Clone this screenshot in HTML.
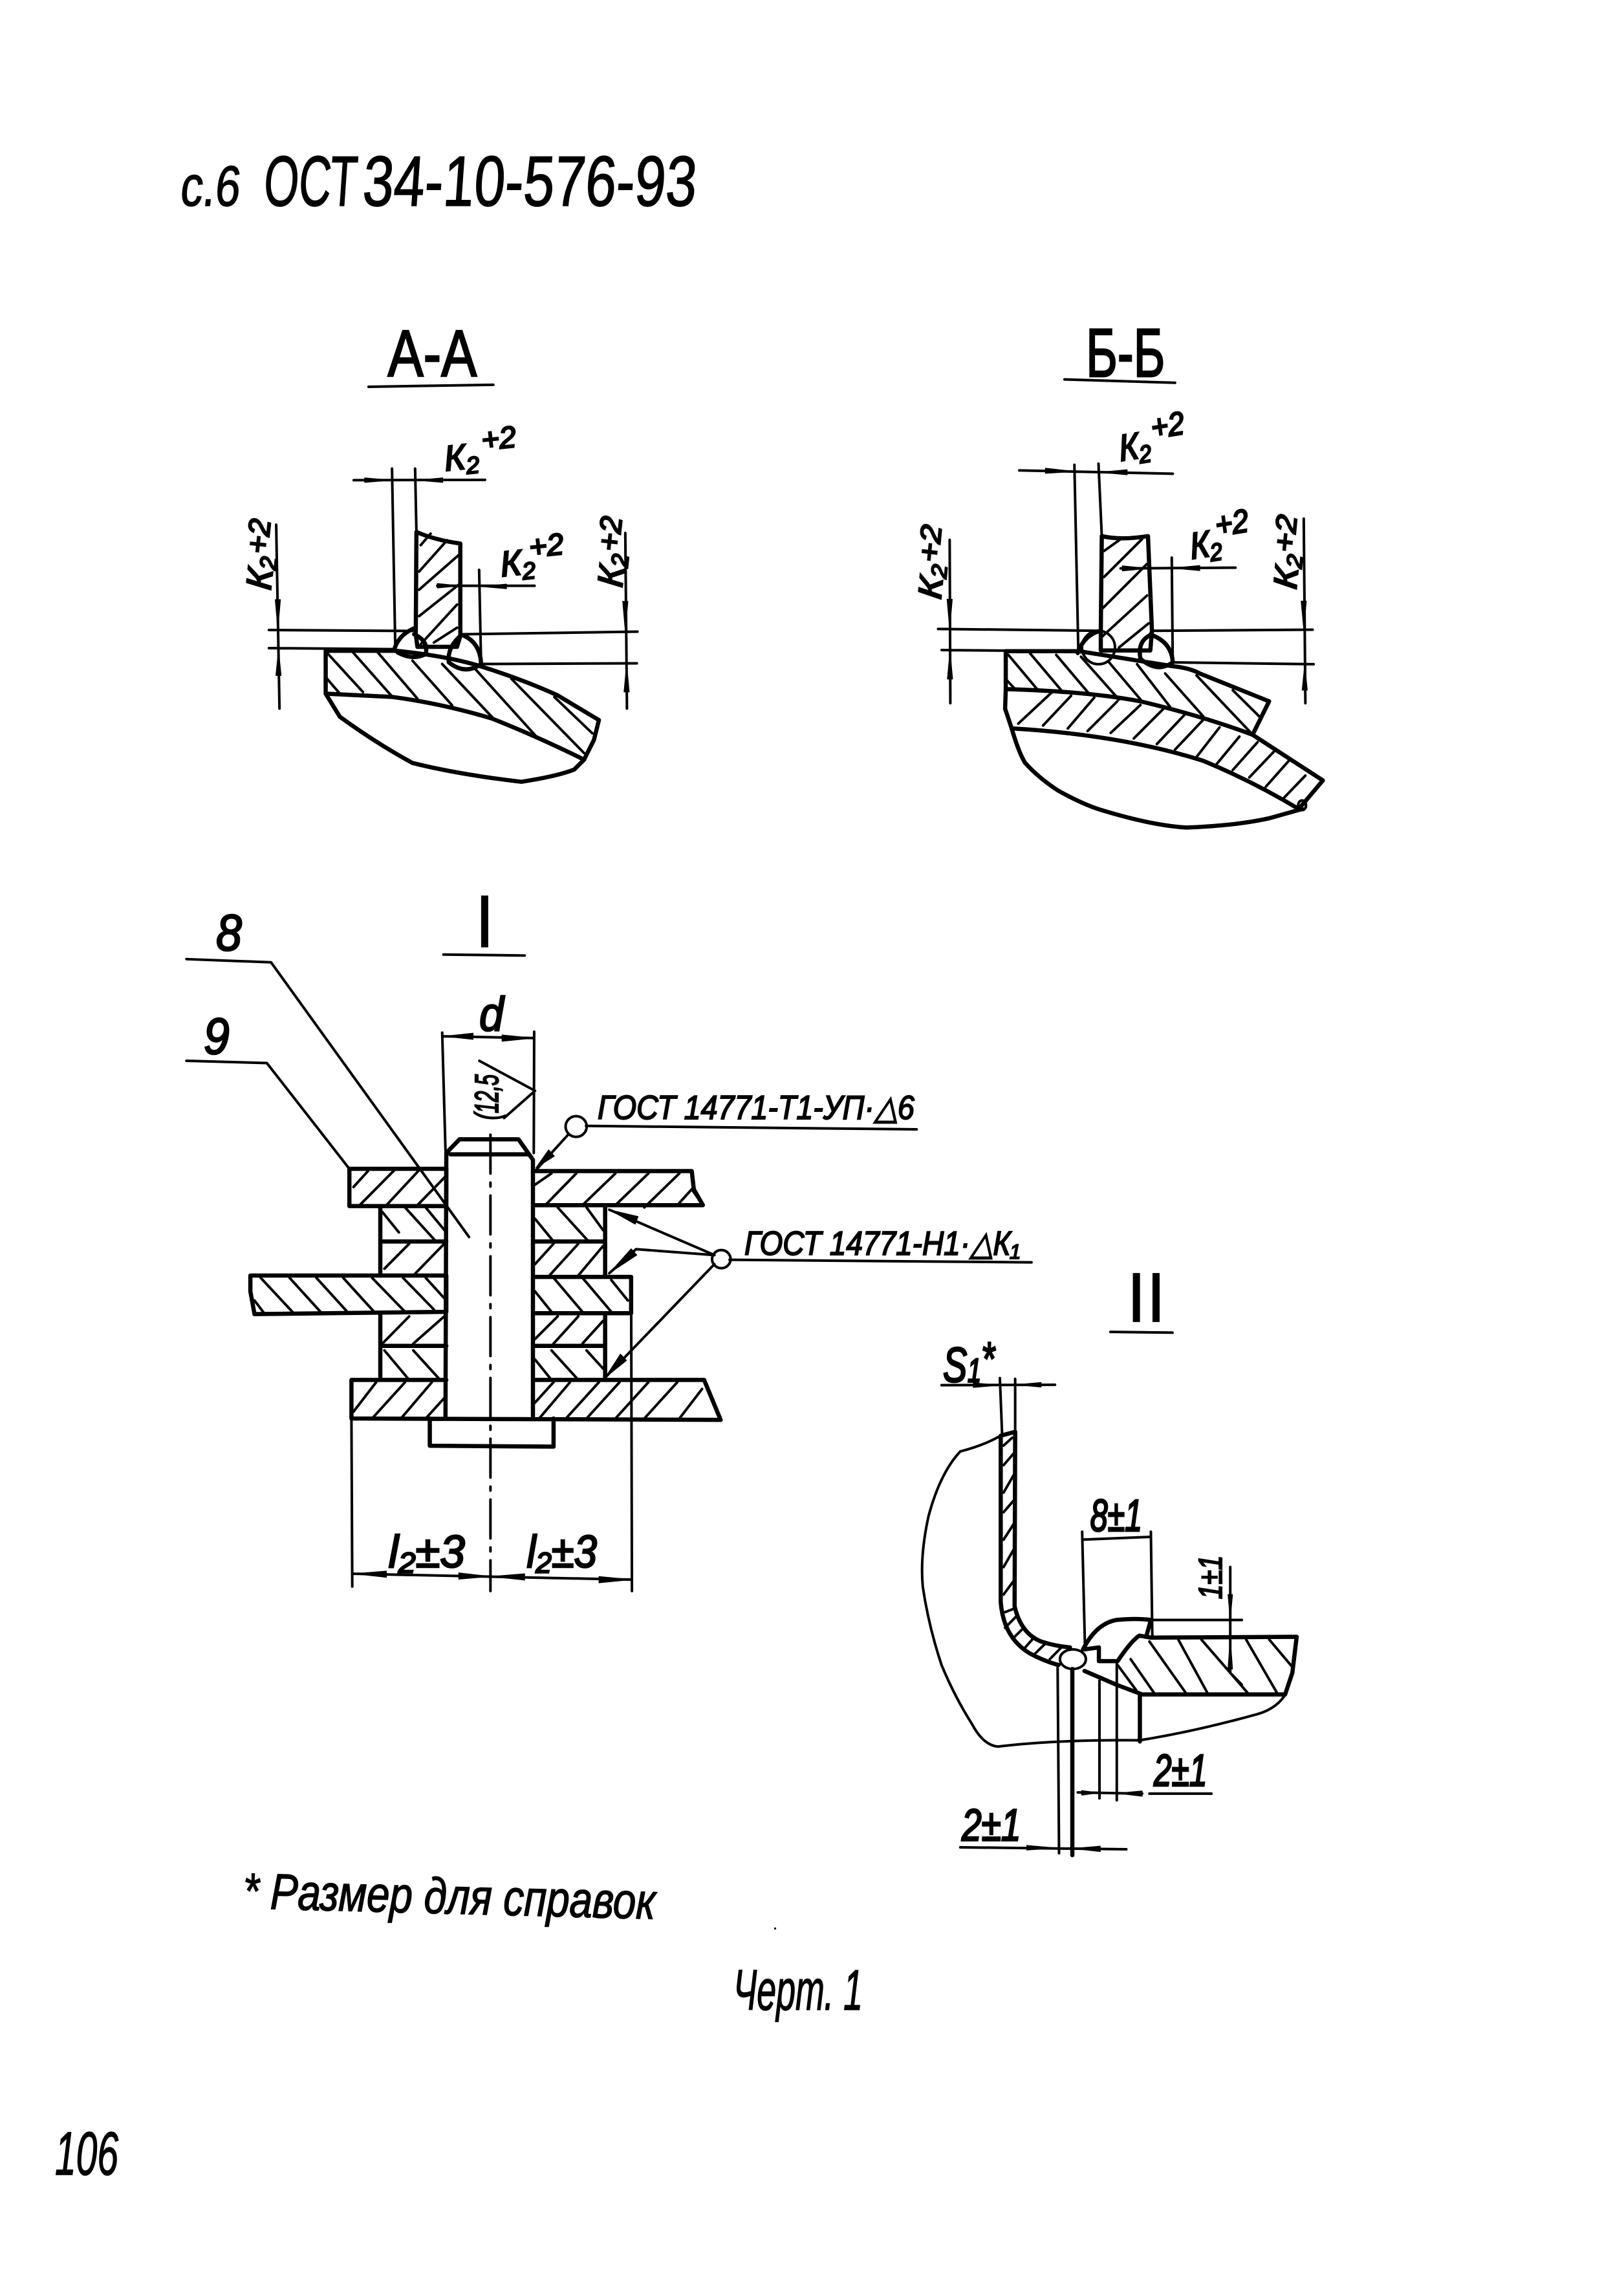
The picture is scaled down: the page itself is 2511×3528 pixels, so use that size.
<!DOCTYPE html>
<html lang="ru"><head><meta charset="utf-8"><title>с.6 ОСТ 34-10-576-93</title>
<style>
html,body{margin:0;padding:0;background:#fff}
svg{display:block}
path,line,ellipse{vector-effect:non-scaling-stroke;fill:none;stroke:#000;stroke-linecap:round;stroke-linejoin:round}
.t{stroke-width:6.5px}.n{stroke-width:4px}.h{stroke-width:4px}.b{stroke-width:11px;stroke-linecap:butt}
path.f{fill:#000;stroke:#000;stroke-width:1px}
text{font-family:"Liberation Sans",sans-serif;fill:#000;stroke:#000;stroke-width:2.5px;vector-effect:non-scaling-stroke}
text.s{stroke-width:1.5px}
.i{font-style:italic}
</style></head><body>
<svg xmlns="http://www.w3.org/2000/svg" width="2511" height="3528" viewBox="0 0 2511 3528">
<rect width="2511" height="3528" fill="#fff"/>

<!-- heading -->
<text class="s" transform="translate(277,318) skewX(-6)" font-size="88" textLength="92" lengthAdjust="spacingAndGlyphs">с.6</text>
<text class="s" transform="translate(406,318) skewX(-4)" font-size="110" textLength="144" lengthAdjust="spacingAndGlyphs">ОСТ</text>
<text class="s" transform="translate(559,318) skewX(-4)" font-size="110" textLength="516" lengthAdjust="spacingAndGlyphs">34-10-576-93</text>

<!-- A-A -->
<g transform="translate(250,450) scale(.5102)">
<text x="685" y="258" font-size="200" textLength="270" lengthAdjust="spacingAndGlyphs">А-А</text>
<path class="n" d="M627 290L1005 284"/>
<path class="n" d="M698 538L708 1085M768 538L772 730M582 573L980 572M835 893L1130 893M962 845L968 1130M325 1027L760 1030M325 1082L705 1085M905 1040L1442 1032M965 1130L1440 1128M347 708L357 1265M1405 733L1410 1265"/>
<path class="f" d="M698 573L615 566V580ZM770 573L852 566V580ZM905 893L835 886V900ZM965 895L1045 888V902ZM352 1027L344 935H360ZM354 1085L346 1165H362ZM1405 1032L1397 940H1413ZM1409 1128L1401 1215H1417Z"/>
<path class="t" d="M772 730Q830 755 905 765L905 1045L895 1078L775 1078L770 1040Z"/>
<path class="h" d="M785 770L815 735M780 850L865 755M780 905L900 800M780 985L900 890M785 1070L895 950M825 1065L895 1020"/>
<path class="t" d="M705 1085Q720 1040 765 1022M765 1040Q810 1060 800 1100Q760 1120 715 1095M905 1040Q965 1060 968 1130Q920 1165 870 1125Q865 1080 905 1045"/>
<path class="t" d="M497 1090L710 1090Q860 1105 960 1135Q1090 1175 1200 1225L1325 1300L1310 1360L1280 1420Q1150 1355 1000 1295Q850 1250 700 1230L497 1220Z"/>
<path class="h" d="M500 1095L610 1215M580 1095L695 1225M655 1095L775 1235M760 1120L880 1255M850 1130L1005 1295M950 1145L1140 1355M1060 1175L1280 1400M1190 1230L1305 1340M497 1170L540 1220"/>
<path class="t" d="M497 1220L540 1290Q650 1370 760 1430Q900 1465 1090 1487Q1200 1470 1250 1450L1280 1420"/>
<g transform="translate(860,545) rotate(-6)"><text class="i" font-size="108">К</text><text class="i" x="64" y="16" font-size="72">2</text><text class="i" x="118" y="-50" font-size="92">+2</text></g>
<g transform="translate(1030,865) rotate(-6)"><text class="i" font-size="108">К</text><text class="i" x="64" y="16" font-size="72">2</text><text class="i" x="92" y="-48" font-size="92">+2</text></g>
<g transform="translate(330,908) rotate(-84)"><text class="i" font-size="108">К</text><text class="i" x="62" y="10" font-size="72">2</text><text class="i" x="108" y="-22" font-size="92">+2</text></g>
<g transform="translate(1395,900) rotate(-84)"><text class="i" font-size="108">К</text><text class="i" x="62" y="10" font-size="72">2</text><text class="i" x="108" y="-22" font-size="92">+2</text></g>
</g>

<!-- Б-Б -->
<g transform="translate(1350,450) scale(.5102,.574)">
<text x="645" y="230" font-size="185" textLength="240" lengthAdjust="spacingAndGlyphs">Б-Б</text>
<path class="n" d="M580 238L915 247"/>
<path class="n" d="M443 483L908 492M610 468L622 975M683 465L693 660M750 747L1098 745M905 718L908 1000M197 910L690 915M208 967L625 970M845 915L1332 912M905 1000L1335 1005M232 670L234 1110M1305 613L1310 1110"/>
<path class="f" d="M612 486L522 477V491ZM685 488L770 481V495ZM835 747L755 740V754ZM905 746L990 739V753ZM232 912L224 830H240ZM233 967L225 1045H241ZM1305 912L1297 835H1313ZM1308 1005L1300 1075H1316Z"/>
<path class="t" d="M693 660Q750 672 833 660L845 915L840 968L690 968L690 915Z"/>
<path class="h" d="M700 700L755 665M700 770L815 668M695 855L830 735M695 930L830 820M745 960L835 895"/>
<path class="t" d="M620 975Q640 925 690 915M840 925Q905 945 908 1000Q860 1030 810 990Q800 940 845 925"/>
<ellipse class="n" cx="683" cy="960" rx="50" ry="45"/>
<path class="t" d="M402 970L625 970Q800 995 905 1010Q960 1015 990 1030L1200 1105L1150 1195Q1000 1145 810 1105Q650 1078 402 1072Z"/>
<path class="h" d="M410 980L495 1070M475 975L570 1075M555 980L655 1085M630 985L745 1100M715 1000L815 1105M800 1005L900 1120M885 1030L1000 1145M980 1035L1145 1190M1090 1075L1175 1150M402 1045L430 1072"/>
<path class="t" d="M402 1072L400 1125L420 1178Q750 1195 1000 1265Q1150 1320 1290 1395L1363 1318L1150 1195"/>
<path class="h" d="M440 1165L545 1078M515 1170L600 1090M590 1178L670 1095M650 1185L740 1105M720 1190L810 1115M790 1205L880 1125M860 1220L945 1140M915 1235L1000 1155M980 1255L1050 1175M1040 1275L1110 1200M1090 1290L1165 1215M1140 1310L1215 1240M1190 1335L1260 1265M1245 1365L1310 1305"/>
<path class="t" d="M420 1178Q440 1240 460 1270Q500 1310 560 1345Q640 1385 700 1400Q850 1440 950 1445Q1100 1440 1200 1420L1300 1395"/>
<ellipse class="n" cx="1300" cy="1385" rx="12" ry="13"/>
<g transform="translate(750,458) rotate(-8)"><text class="i" font-size="100">К</text><text class="i" x="58" y="14" font-size="66">2</text><text class="i" x="104" y="-46" font-size="88">+2</text></g>
<g transform="translate(965,722) rotate(-8)"><text class="i" font-size="100">К</text><text class="i" x="58" y="14" font-size="66">2</text><text class="i" x="84" y="-50" font-size="88">+2</text></g>
<g transform="translate(205,832) rotate(-84)"><text class="i" font-size="100">К</text><text class="i" x="58" y="10" font-size="66">2</text><text class="i" x="98" y="-18" font-size="88">+2</text></g>
<g transform="translate(1282,805) rotate(-84)"><text class="i" font-size="100">К</text><text class="i" x="58" y="10" font-size="66">2</text><text class="i" x="98" y="-18" font-size="88">+2</text></g>
</g>

<!-- I -->
<g transform="translate(250,1400) scale(.6378,.7018)">
<path class="b" d="M783 -22V92"/>
<path class="n" d="M683 108L880 110"/>
<text class="i" x="132" y="98" font-size="112">8</text>
<text class="i" x="102" y="326" font-size="112">9</text>
<text class="i" x="770" y="276" font-size="106">d</text>
<path class="n" d="M60 118L265 125L745 730M60 342L255 347L455 580"/>
<path class="n" d="M683 288L903 292M680 280L688 540M903 278L902 545M770 342L905 408L830 468"/>
<path class="f" d="M684 288L755 281V295ZM903 292L825 285V299Z"/>
<text transform="translate(815,472) rotate(-90)" class="i" font-size="80" textLength="100" lengthAdjust="spacingAndGlyphs">(12,5</text>
<path class="t" d="M690 545L722 515L865 515L900 560M700 548L890 548M690 545L688 1125M900 560L900 1125"/>
<path class="n" d="M797 505V1510" stroke-dasharray="60 14 6 14"/>
<path class="t" d="M460 1130L1355 1133L1315 1045L905 1045M460 1130L460 1045L690 1045M650 1130L650 1190L950 1192L950 1130"/>
<path class="t" d="M455 580L690 580L690 662L455 662ZM905 585L1285 585L1290 625L1312 660L905 660"/>
<path class="t" d="M530 662V815M530 740H690M530 900V1045M530 970H690M905 740H1075M905 970H1075M1075 660V815M1075 900V1045"/>
<path class="t" d="M215 815L690 815L690 895L225 900L215 850ZM905 818L1138 818L1138 898L905 898"/>
<path class="h" d="M465 620L500 585M480 660L565 582M545 660L625 582M620 660L690 595M905 615L945 590M930 660L1005 590M1020 660L1100 590M1100 660L1180 590M1170 665L1255 590M1250 660L1285 625M1285 625L1312 660"/>
<path class="h" d="M535 675L575 720M590 665L665 740M640 665L690 720M905 690L950 740M960 665L1035 740M1030 665L1070 715M540 800L600 745M610 815L685 745M905 790L950 745M940 815L1010 745M1010 815L1070 750"/>
<path class="h" d="M240 820L320 898M310 820L385 895M375 820L450 895M440 820L515 895M510 820L590 895M585 820L660 890M640 820L690 870M225 870L250 900M905 850L945 895M950 820L1020 895M1020 820L1090 895M1090 825L1130 870"/>
<path class="h" d="M535 965L600 905M610 965L685 905M905 955L960 905M950 965L1010 905M1020 965L1070 915M540 980L600 1045M610 980L675 1045M905 1000L945 1045M945 980L1010 1045M1030 980L1070 1020"/>
<path class="h" d="M465 1115L520 1050M510 1130L590 1050M580 1130L655 1050M640 1130L690 1080M905 1095L950 1050M915 1130L990 1050M980 1130L1060 1050M1030 1130L1110 1050M1100 1130L1180 1050M1170 1130L1250 1050M1255 1130L1310 1065"/>
<path class="n" d="M1138 818L1140 1510M460 1130L462 1500M465 1472L1140 1485"/>
<path class="f" d="M465 1472L545 1466V1480ZM797 1478L720 1470V1484ZM797 1478L880 1472V1486ZM1140 1485L1060 1478V1492Z"/>
<text class="i" x="550" y="1458" font-size="100" textLength="185" lengthAdjust="spacingAndGlyphs">l₂±3</text>
<text class="i" x="885" y="1458" font-size="100" textLength="170" lengthAdjust="spacingAndGlyphs">l₂±3</text>
<path class="n" d="M985 505L910 580M1340 770L1085 670M1340 770L1150 757L1085 810M1340 790L1075 1040"/>
<path class="f" d="M907 578L938 538L952 552ZM1085 670L1155 685L1148 702ZM1085 810L1138 756L1152 770ZM1075 1040L1112 988L1127 1002Z"/>
</g>

<!-- weld labels -->
<g transform="translate(850,1650) scale(.5102,.3333)">
<ellipse class="n" cx="80" cy="275" rx="32" ry="48"/>
<ellipse class="n" cx="520" cy="890" rx="28" ry="42"/>
<text class="i" x="145" y="240" font-size="155" textLength="960" lengthAdjust="spacingAndGlyphs">ГОСТ 14771-Т1-УП·△6</text>
<text class="i" x="590" y="870" font-size="155" textLength="835" lengthAdjust="spacingAndGlyphs">ГОСТ 14771-Н1·△К₁</text>
<path class="n" d="M110 272L1112 288M545 893L1460 905"/>
</g>

<!-- II -->
<g transform="translate(1400,1950) scale(.4464,.606)">
<path class="b" d="M800 30V155M868 30V155"/>
<path class="n" d="M710 180L925 182"/>
<text class="i" x="130" y="308" font-size="125">S</text>
<text class="i" x="215" y="308" font-size="85">1</text>
<text class="i" x="262" y="290" font-size="120">*</text>
<path class="n" d="M125 316L518 315M327 298L335 445M380 300L380 440"/>
<path class="f" d="M327 316L235 310V322ZM380 315L470 309V321Z"/>
<path class="t" d="M330 445V870Q340 960 430 1000Q480 1020 530 1030M380 435L378 880Q400 950 470 970Q520 982 570 985M330 445L380 435"/>
<path class="h" d="M340 470L370 450M340 520L375 490M340 590L375 545M340 640L375 610M340 710L375 670M340 780L375 735M340 850L375 815M345 895L380 885M345 935L385 905M375 960L410 935M415 985L445 960M450 1000L485 975M500 1015L540 985"/>
<ellipse class="n" cx="580" cy="1015" rx="45" ry="25"/>
<path class="n" d="M330 445Q270 470 190 485Q120 540 80 650Q50 750 60 830Q80 930 125 1030Q170 1110 230 1180Q270 1235 320 1238Q520 1220 810 1222Q1000 1200 1220 1155Q1290 1140 1320 1100"/>
<path class="t" d="M850 960L1355 958L1340 1050L1315 1105L820 1105L730 1080L620 1045M735 1020Q780 970 810 955L850 960M735 1020L670 1020L670 985L620 990M615 990Q660 925 730 915Q800 910 850 915L835 955"/>
<path class="n" d="M850 915L1165 915"/>
<path class="h" d="M735 1030L800 1095M780 1015L860 1100M845 970L970 1100M945 965L1045 1100M1025 965L1190 1105M1180 965L1290 1105M1260 965L1340 1035M1125 1050L1165 1080"/>
<path class="t" d="M812 1105V1225"/>
<text class="i" x="640" y="688" font-size="115" textLength="180" lengthAdjust="spacingAndGlyphs">8±1</text>
<path class="n" d="M615 710L850 703M612 690L622 990M850 690L855 955M1125 780L1125 1050"/>
<path class="f" d="M1125 915L1117 850H1133ZM1125 960L1117 1040H1133Z"/>
<text transform="translate(1095,862) rotate(-90)" class="i" font-size="115" textLength="112" lengthAdjust="spacingAndGlyphs">1±1</text>
<path class="n" d="M527 1030L532 1510M672 1070L672 1370M732 1020L732 1375"/>
<path class="t" d="M578 1040V1515"/>
<path class="n" d="M190 1495L765 1500M597 1355L820 1358M845 1358L1060 1358"/>
<path class="f" d="M672 1356L610 1350V1362ZM732 1357L820 1351V1365ZM527 1497L420 1490V1502ZM578 1498L675 1492V1506Z"/>
<text class="i" x="195" y="1478" font-size="115" textLength="205" lengthAdjust="spacingAndGlyphs">2±1</text>
<text class="i" x="860" y="1338" font-size="115" textLength="185" lengthAdjust="spacingAndGlyphs">2±1</text>
</g>

<!-- footer text -->
<text class="i s" transform="translate(375,2950) rotate(1.5)" font-size="78" textLength="638" lengthAdjust="spacingAndGlyphs">* Размер для справок</text>
<rect x="1197" y="2980" width="3" height="3"/>
<text class="i s" transform="translate(1134,3107)" font-size="88" textLength="200" lengthAdjust="spacingAndGlyphs">Черт. 1</text>
<text class="i s" transform="translate(85,3362)" font-size="95" textLength="98" lengthAdjust="spacingAndGlyphs">106</text>
</svg>
</body></html>
